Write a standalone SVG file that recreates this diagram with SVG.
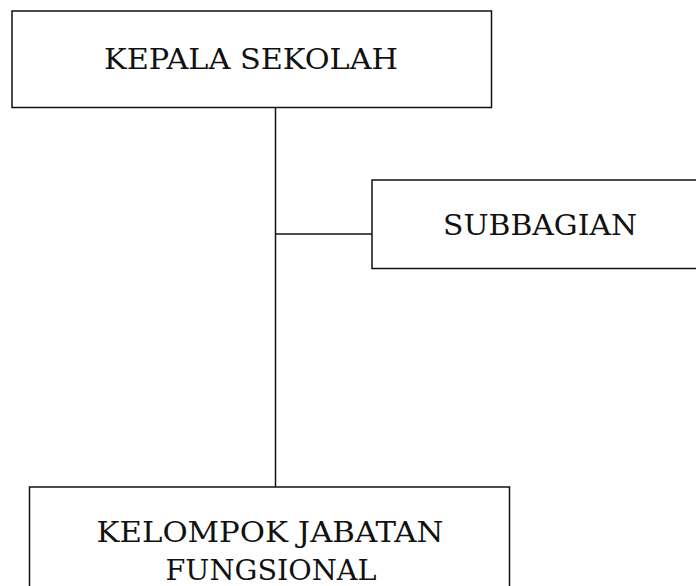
<svg xmlns="http://www.w3.org/2000/svg" width="696" height="586" viewBox="0 0 696 586">
<style>
.box{fill:#fff;stroke:#111;stroke-width:1.5}
.ln{stroke:#111;stroke-width:1.5;fill:none}
text{font-family:"DejaVu Serif","Liberation Serif",serif;font-size:27px;fill:#111;text-anchor:middle}
</style>
<rect width="696" height="586" fill="#fff"/>
<g id="connectors">
<line class="ln" x1="275.5" y1="107.5" x2="275.5" y2="487"/>
<line class="ln" x1="275.5" y1="234" x2="372" y2="234"/>
</g>
<g id="kepala">
<rect class="box" x="12" y="11" width="479.5" height="96.5"/>
<text x="251" y="68.5" textLength="294" lengthAdjust="spacingAndGlyphs">KEPALA SEKOLAH</text>
</g>
<g id="subbagian">
<rect class="box" x="372" y="180" width="340" height="88.5"/>
<text x="540" y="235" textLength="194" lengthAdjust="spacingAndGlyphs">SUBBAGIAN</text>
</g>
<g id="kelompok">
<rect class="box" x="29.5" y="487" width="480" height="120"/>
<text x="270" y="541.5" textLength="347" lengthAdjust="spacingAndGlyphs">KELOMPOK JABATAN</text>
<text x="271" y="579.5" textLength="211" lengthAdjust="spacingAndGlyphs">FUNGSIONAL</text>
</g>
</svg>
